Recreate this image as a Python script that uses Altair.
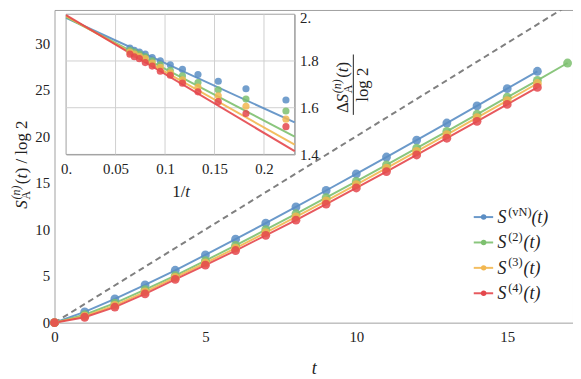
import altair as alt
import pandas as pd

FONT = "Liberation Serif"
TXT = "#222222"
FRAME = "#a0a0a0"

# ---------------- data ----------------
series = ["vN", "2", "3", "4"]
colors = ["#5b8ec4", "#7dc06f", "#f2b750", "#e4474c"]
sup_labels = ["(vN)", "(2)", "(3)", "(4)"]

t_vN = list(range(0, 17))
S_vN = [0, 1.15, 2.55, 4.05, 5.62, 7.27, 8.96, 10.68, 12.41, 14.18, 15.97, 17.77, 19.59, 21.42, 23.26, 25.11, 26.97]
t_2 = list(range(0, 18))
S_2 = [0, 0.85, 2.10, 3.55, 5.05, 6.65, 8.30, 9.97, 11.68, 13.41, 15.15, 16.92, 18.72, 20.53, 22.36, 24.19, 26.00, 27.86]
t_3 = list(range(0, 17))
S_3 = [0, 0.70, 1.85, 3.30, 4.85, 6.40, 8.00, 9.65, 11.34, 13.06, 14.81, 16.58, 18.37, 20.18, 22.00, 23.83, 25.66]
t_4 = list(range(0, 17))
S_4 = [0, 0.58, 1.67, 3.08, 4.65, 6.17, 7.74, 9.37, 11.00, 12.72, 14.45, 16.21, 17.99, 19.79, 21.60, 23.42, 25.24]

diag_t = [0, 17.2]
diag_S = [0, 34.4]

inv_t = [0.2222, 0.1818, 0.1538, 0.1333, 0.1176, 0.1053, 0.0952, 0.0870, 0.0800, 0.0741, 0.0690, 0.0645]
dS_vN = [1.633, 1.681, 1.713, 1.742, 1.764, 1.784, 1.801, 1.815, 1.829, 1.838, 1.846, 1.855]
dS_2 = [1.586, 1.637, 1.677, 1.708, 1.736, 1.760, 1.784, 1.801, 1.818, 1.829, 1.838, 1.846]
dS_3 = [1.551, 1.606, 1.651, 1.688, 1.719, 1.749, 1.773, 1.791, 1.810, 1.820, 1.829, 1.838]
dS_4 = [1.519, 1.575, 1.626, 1.668, 1.705, 1.739, 1.756, 1.778, 1.793, 1.810, 1.818, 1.829]

fit_x = [0.0, 0.231]
fit_vN = [1.985, 1.537]
fit_2 = [1.988, 1.476]
fit_3 = [1.992, 1.442]
fit_4 = [1.996, 1.414]

main_xticks = [0, 5, 10, 15]
main_yticks = [0, 5, 10, 15, 20, 25, 30]
main_xdom = [0, 17.18]
main_ydom = [0, 33.55]

inset_xticks = [0, 0.05, 0.1, 0.15, 0.2]
inset_yticks = [1.4, 1.6, 1.8, 2.0]
inset_xgrid = [0.05, 0.1, 0.15, 0.2]
inset_ygrid = [1.6, 1.8]
inset_xdom = [0, 0.231]
inset_ydom = [1.4, 2.0]

# ---------------- tables ----------------
main_df = pd.concat([
    pd.DataFrame({"t": t, "S": s, "series": name})
    for t, s, name in [(t_vN, S_vN, "vN"), (t_2, S_2, "2"), (t_3, S_3, "3"), (t_4, S_4, "4")]
], ignore_index=True)
diag_df = pd.DataFrame({"t": diag_t, "S": diag_S})
ins_pts = pd.concat([
    pd.DataFrame({"x": inv_t, "y": d, "series": name})
    for d, name in [(dS_vN, "vN"), (dS_2, "2"), (dS_3, "3"), (dS_4, "4")]
], ignore_index=True)
ins_fit = pd.concat([
    pd.DataFrame({"x": fit_x, "y": f, "series": name})
    for f, name in [(fit_vN, "vN"), (fit_2, "2"), (fit_3, "3"), (fit_4, "4")]
], ignore_index=True)
legend_df = pd.DataFrame({"series": series, "sup": sup_labels})
one = pd.DataFrame({"k": [0]})

color = alt.Color("series:N", scale=alt.Scale(domain=series, range=colors), legend=None)

# ---------------- main plot ----------------
mx_scale = alt.Scale(domain=main_xdom, nice=False)
my_scale = alt.Scale(domain=main_ydom, nice=False, zero=False)
mx_axis = alt.Axis(values=main_xticks, title="t", titleFont=FONT, titleFontSize=18,
                   titleFontStyle="italic", titleFontWeight="normal", titleColor=TXT,
                   titlePadding=15, labelFont=FONT, labelFontSize=15, labelColor=TXT,
                   labelPadding=7, tickSize=0, domain=False, grid=False,
                   labelFlush=False, labelOverlap=False)
my_axis = alt.Axis(values=main_yticks, title=None, labelFont=FONT, labelFontSize=15,
                   labelColor=TXT, labelPadding=5, tickSize=0, domain=False, grid=False,
                   labelFlush=False, labelOverlap=False)
mx = alt.X("t:Q", scale=mx_scale, axis=mx_axis)
my = alt.Y("S:Q", scale=my_scale, axis=my_axis)

dashed = alt.Chart(diag_df).mark_line(color="#808080", strokeDash=[6, 4], strokeWidth=2,
                                      clip=True).encode(x=mx, y=my)
lines = alt.Chart(main_df).mark_line(strokeWidth=2, opacity=0.9).encode(x=mx, y=my, color=color)
points = alt.Chart(main_df).mark_circle(size=80, opacity=0.85).encode(x=mx, y=my, color=color)
main = alt.layer(dashed, lines, points)

# ---------------- inset ----------------
ix_scale = alt.Scale(domain=inset_xdom, range=[11.7, 242.7], nice=False, zero=False)
iy_scale = alt.Scale(domain=inset_ydom, range=[146, 4.3], nice=False, zero=False)
ix_axis = alt.Axis(orient="bottom", offset=-170, values=inset_xticks, title=None,
                   labelExpr="datum.value == 0 ? '0.' : '' + datum.value",
                   labelFont=FONT, labelFontSize=15, labelColor=TXT, labelPadding=7,
                   tickSize=0, domain=True, domainColor=FRAME, grid=False,
                   labelFlush=False, labelOverlap=False)
iy_axis = alt.Axis(orient="right", offset=-281.3, values=inset_yticks, title=None,
                   labelExpr="datum.value == 2 ? '2.' : format(datum.value, '.1f')",
                   labelOffset={"expr": "datum.value == 2 ? 3 : 0"},
                   labelFont=FONT, labelFontSize=15, labelColor=TXT, labelPadding=5,
                   tickSize=0, domain=True, domainColor=FRAME, grid=False,
                   labelFlush=False, labelOverlap=False)

bg = alt.Chart(one).mark_rect(fill="white", stroke=FRAME, strokeWidth=1).encode(
    x=alt.XDatum(inset_xdom[0], type="quantitative", scale=ix_scale, axis=ix_axis),
    x2=alt.X2Datum(inset_xdom[1]),
    y=alt.YDatum(inset_ydom[0], type="quantitative", scale=iy_scale, axis=iy_axis),
    y2=alt.Y2Datum(inset_ydom[1]),
)
gridx = alt.Chart(pd.DataFrame({"gx": inset_xgrid})).mark_rule(color="#cfcfcf", strokeWidth=1).encode(
    x=alt.X("gx:Q", scale=ix_scale, axis=ix_axis),
    y=alt.YDatum(inset_ydom[0], type="quantitative", scale=iy_scale, axis=iy_axis),
    y2=alt.Y2Datum(inset_ydom[1]),
)
gridy = alt.Chart(pd.DataFrame({"gy": inset_ygrid})).mark_rule(color="#cfcfcf", strokeWidth=1).encode(
    y=alt.Y("gy:Q", scale=iy_scale, axis=iy_axis),
    x=alt.XDatum(inset_xdom[0], type="quantitative", scale=ix_scale, axis=ix_axis),
    x2=alt.X2Datum(inset_xdom[1]),
)
ifit = alt.Chart(ins_fit).mark_line(strokeWidth=2, opacity=0.9).encode(
    x=alt.X("x:Q", scale=ix_scale, axis=ix_axis),
    y=alt.Y("y:Q", scale=iy_scale, axis=iy_axis),
    color=color,
)
ipts = alt.Chart(ins_pts).mark_circle(size=52, opacity=0.85).encode(
    x=alt.X("x:Q", scale=ix_scale, axis=ix_axis),
    y=alt.Y("y:Q", scale=iy_scale, axis=iy_axis),
    color=color,
)
inset = alt.layer(bg, gridx, gridy, ifit, ipts)


# ---------------- text helpers ----------------
def txt(text, x, y, size=17, italic=False, angle=0, align="left", baseline="alphabetic"):
    return alt.Chart(one).mark_text(
        text=text, font=FONT, fontSize=size, fontStyle="italic" if italic else "normal",
        angle=angle, align=align, baseline=baseline, color=TXT,
    ).encode(x=alt.value(x), y=alt.value(y))


# main y title  S_A^(n)(t) / log 2  (rotated)
ytitle = [
    txt("S", -28, 201, italic=True, angle=270),
    txt("(n)", -35, 191.5, size=12, italic=True, angle=270),
    txt("A", -24.5, 191.5, size=12, angle=270),
    txt("(", -28, 176, angle=270),
    txt("t", -28, 170.3, italic=True, angle=270),
    txt(") / log 2", -28, 165.1, angle=270),
]

# inset y title  ΔS_A^(n)(t) / log 2  as a fraction (rotated)
iytitle = [
    txt("Δ", 297, 104, angle=270),
    txt("S", 297, 93.6, italic=True, angle=270),
    txt("(n)", 290, 84.1, size=12, italic=True, angle=270),
    txt("A", 300.5, 84.1, size=12, angle=270),
    txt("(", 297, 68.6, angle=270),
    txt("t", 297, 62.9, italic=True, angle=270),
    txt(")", 297, 58.2, angle=270),
    txt("log 2", 317, 75.5, angle=270, align="center"),
    alt.Chart(one).mark_rule(color=TXT, strokeWidth=1).encode(
        x=alt.value(302), y=alt.value(45), y2=alt.value(106)),
]

# inset x title 1/t
ixtitle = [
    txt("1/", 119, 189),
    txt("t", 132.2, 189, italic=True),
]

# ---------------- legend ----------------
ly = alt.Y("series:N", scale=alt.Scale(type="point", domain=series, range=[209.3, 286.3], padding=0),
           axis=None)
leg_line = alt.Chart(legend_df).mark_rule(strokeWidth=2, opacity=0.9).encode(
    x=alt.value(423.7), x2=alt.value(443.3), y=ly, color=color)
leg_dot = alt.Chart(legend_df).mark_circle(size=30, opacity=1).encode(
    x=alt.value(433.7), y=ly, color=color)
leg_S = alt.Chart(legend_df).mark_text(text="S", font=FONT, fontSize=18, fontStyle="italic",
                                      align="left", baseline="alphabetic", dy=6, color=TXT).encode(
    x=alt.value(447.7), y=ly)
leg_sup = alt.Chart(legend_df).mark_text(font=FONT, fontSize=12.5, align="left",
                                        baseline="alphabetic", dy=-1.5, color=TXT).encode(
    x=alt.value(458.5), y=ly, text="sup:N")
leg_t1 = alt.Chart(legend_df).transform_filter("datum.series == 'vN'").mark_text(
    text="(t)", font=FONT, fontSize=18, fontStyle="italic", align="left",
    baseline="alphabetic", dy=6, color=TXT).encode(x=alt.value(482), y=ly)
leg_t2 = alt.Chart(legend_df).transform_filter("datum.series != 'vN'").mark_text(
    text="(t)", font=FONT, fontSize=18, fontStyle="italic", align="left",
    baseline="alphabetic", dy=6, color=TXT).encode(x=alt.value(474), y=ly)
legend = alt.layer(leg_line, leg_dot, leg_S, leg_sup, leg_t1, leg_t2)

texts = alt.layer(*ytitle, *iytitle, *ixtitle)

chart = alt.layer(main, inset, legend, texts).resolve_scale(
    x="independent", y="independent"
).properties(
    width=524, height=316,
    autosize=alt.AutoSizeParams(type="none"),
    padding={"left": 47, "top": 0, "right": 0, "bottom": 60},
).configure_view(stroke=FRAME, strokeWidth=1)

chart.save("out.html", embed_options={"renderer": "svg", "actions": False})
